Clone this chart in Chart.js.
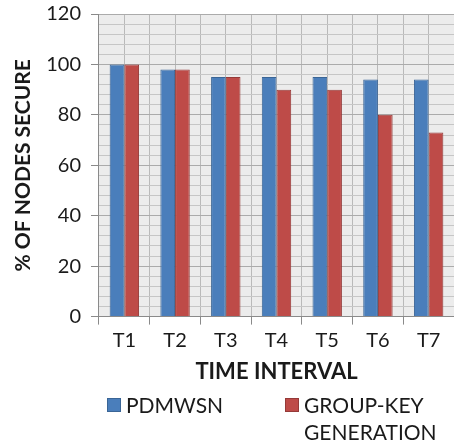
<!DOCTYPE html>
<html>
<head>
<meta charset="utf-8">
<script src="https://cdn.jsdelivr.net/npm/chart.js@4"></script>
<style>
  html, body { margin: 0; padding: 0; background: #fff; }
  #wrap { width: 454px; height: 445px; }
</style>
</head>
<body>
<div id="wrap"><canvas id="chart"></canvas></div>
<script>
const categories = ['T1', 'T2', 'T3', 'T4', 'T5', 'T6', 'T7'];
const seriesNames = ['PDMWSN', 'GROUP-KEY GENERATION'];
const pdmwsn = [100, 98, 95, 95, 95, 94, 94];
const groupKey = [100, 98, 95, 90, 90, 80, 73];
const yTicksMax = 120;

const color_blue = '#4a7ebb';
const color_red = '#be4b48';
const font = 'Lato, "Open Sans", sans-serif';

// grey plot background, like the office chart
const plotBg = {
    id: 'plotBg',
    beforeDraw(chart) {
        const { ctx, chartArea: a } = chart;
        ctx.save();
        ctx.fillStyle = '#ececec';
        ctx.fillRect(a.left, a.top, a.right - a.left, a.bottom - a.top);
        ctx.restore();
    },
};

// legend under the axis title, second label wraps on two lines
const bottomLegend = {
    id: 'bottomLegend',
    afterDraw(chart) {
        const ctx = chart.ctx;
        const spots = [{ x: 107, y: 398 }, { x: 285, y: 398 }];
        ctx.save();
        ctx.font = '21px ' + font;
        ctx.textBaseline = 'middle';
        chart.data.datasets.forEach((ds, i) => {
            const s = spots[i];
            ctx.fillStyle = ds.backgroundColor;
            ctx.fillRect(s.x, s.y, 14, 14);
            ctx.strokeStyle = ds.borderColor;
            ctx.lineWidth = 1;
            ctx.strokeRect(s.x + 0.5, s.y + 0.5, 13, 13);
            ctx.fillStyle = '#1a1a1a';
            ds.label.split(' ').forEach((line, k) => {
                ctx.fillText(line, s.x + 19, s.y + 8 + k * 27);
            });
        });
        ctx.restore();
    },
};

new Chart(document.getElementById('chart'), {
    type: 'bar',
    data: {
        labels: categories,
        datasets: [
            { label: seriesNames[0], data: pdmwsn, backgroundColor: color_blue, borderColor: '#3a6596', borderWidth: 1 },
            { label: seriesNames[1], data: groupKey, backgroundColor: color_red, borderColor: '#953a38', borderWidth: 1 },
        ],
    },
    options: {
        responsive: true,
        maintainAspectRatio: false,
        animation: false,
        categoryPercentage: 0.58,
        barPercentage: 1,
        layout: { padding: { top: 0, right: 0, bottom: 60, left: 0 } },
        plugins: {
            legend: { display: false },
            tooltip: { enabled: false },
        },
        scales: {
            x: {
                grid: { color: '#b9b9b9', tickColor: '#8a8a8a', tickLength: 8, offset: true },
                border: { color: '#8a8a8a' },
                ticks: { font: { family: font, size: 20 }, color: '#1a1a1a', padding: 4 },
                title: {
                    display: true, text: 'TIME INTERVAL',
                    font: { family: font, size: 22, weight: 'bold' }, color: '#1a1a1a',
                    padding: { top: 2, bottom: 0 },
                },
            },
            x2: {
                type: 'category',
                position: 'top',
                offset: true,
                grid: { color: '#b9b9b9', offset: false, drawTicks: false },
                border: { display: false },
                ticks: { display: false },
            },
            y: {
                min: 0,
                max: yTicksMax,
                // tick padding also pads the top, keep the plot close to the top edge
                afterFit: scale => { scale.paddingTop = 14; },
                grid: {
                    color: c => (c.tick && c.tick.value % 20 === 0 ? '#ababab' : '#c6c6c6'),
                    tickColor: c => (c.tick && c.tick.value % 20 === 0 ? '#8a8a8a' : 'transparent'),
                    tickLength: 8,
                },
                border: { color: '#8a8a8a' },
                ticks: {
                    stepSize: 4,
                    autoSkip: false,
                    padding: 10,
                    font: { family: font, size: 20 },
                    color: '#1a1a1a',
                    callback: v => (v % 20 === 0 ? v : ''),
                },
                title: {
                    display: true, text: '% OF NODES SECURE',
                    font: { family: font, size: 21, weight: 'bold' }, color: '#1a1a1a',
                    padding: { top: 11, bottom: 0 },
                },
            },
        },
    },
    plugins: [plotBg, bottomLegend],
});
</script>
</body>
</html>
